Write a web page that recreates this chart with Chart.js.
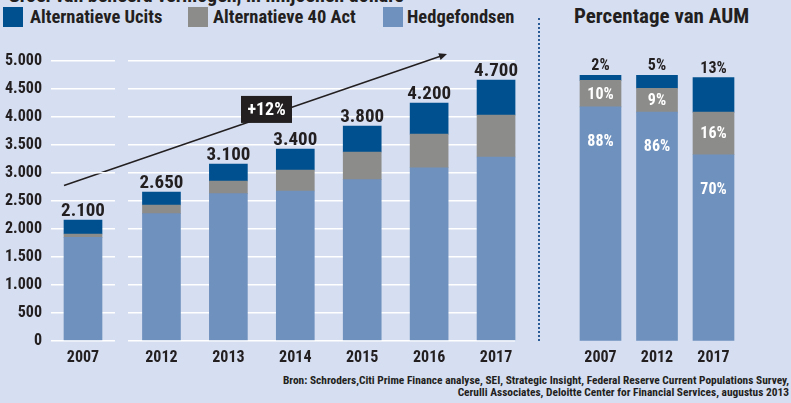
<!DOCTYPE html>
<html><head><meta charset="utf-8">
<script src="https://cdn.jsdelivr.net/npm/chart.js@4/dist/chart.umd.min.js"></script>
<style>
html,body{margin:0;padding:0;background:#d6def1;width:791px;height:403px;overflow:hidden;position:relative;
 font-family:'Roboto Condensed','Open Sans',sans-serif;color:#231f20}
.abs{position:absolute;white-space:nowrap}
canvas{position:absolute;top:0}
.sq{position:absolute;top:7px;width:20px;height:20px}
.lg{position:absolute;top:7px;font-size:18.5px;line-height:20px;font-weight:bold}
</style></head><body>
<div class="abs" style="left:8px;top:-15px;font-size:20px;line-height:21px;font-weight:bold">Groei van beheerd vermogen, in miljoenen dollars</div>
<div class="sq" style="left:3px;background:#00508f"></div><div class="lg" style="left:30px">Alternatieve Ucits</div>
<div class="sq" style="left:188px;background:#8c8c8a"></div><div class="lg" style="left:213px">Alternatieve 40 Act</div>
<div class="sq" style="left:383px;background:#6f91bd"></div><div class="lg" style="left:407px">Hedgefondsen</div>
<div class="abs" style="left:574px;top:6px;font-size:21px;line-height:21px;font-weight:bold">Percentage van AUM</div>
<div class="abs" style="left:538px;top:18px;height:323px;border-left:2px dotted #2a5a96"></div>
<div class="abs" style="right:2px;top:374px;font-size:11.4px;line-height:12px;font-weight:bold;text-align:right">Bron: Schroders,Citi Prime Finance analyse, SEI, Strategic Insight, Federal Reserve Current Populations Survey,<br>Cerulli Associates, Deloitte Center for Financial Services, augustus 2013</div>
<canvas id="cB" width="540" height="403" style="left:0"></canvas>
<canvas id="cA" width="120" height="403" style="left:0"></canvas>
<canvas id="cC" width="246" height="403" style="left:545px"></canvas>
<script>
// ---- data ----
const years = ['2007','2012','2013','2014','2015','2016','2017'];
const ucits = [250, 232, 304, 375, 464, 554, 625];
const act40 = [59, 155, 227, 375, 494, 601, 750];
const hedge = [1846, 2268, 2625, 2673, 2875, 3089, 3280];
const totalLabels = ['2.100','2.650','3.100','3.400','3.800','4.200','4.700'];
const pctYears = ['2007','2012','2017'];
const pctUcits = [2, 5, 13];
const pctAct40 = [10, 9, 16];
const pctHedge = [88, 86, 70];
const growthLabel = '+12%';
const seriesNames = ['Hedgefondsen','Alternatieve 40 Act','Alternatieve Ucits'];

// ---- styles ----
const FONT = "'Roboto Condensed','Open Sans',sans-serif";
const BG = '#d6def1', INK = '#231f20';
const C_UCITS = '#00508f', C_ACT = '#8c8c8a', C_HEDGE = '#6f91bd';
Chart.defaults.font.family = FONT;
Chart.defaults.color = INK;

function fmt(v){ return v >= 1000 ? Math.floor(v/1000) + '.' + String(v % 1000).padStart(3,'0') : String(v); }

function stackSets(h, a, u, thick){
  return [
    {label: seriesNames[0], data: h, backgroundColor: C_HEDGE, barThickness: thick},
    {label: seriesNames[1], data: a, backgroundColor: C_ACT, barThickness: thick},
    {label: seriesNames[2], data: u, backgroundColor: C_UCITS, barThickness: thick}
  ];
}
const xAxis = {stacked: true, grid: {display: false, drawTicks: false}, border: {display: false},
  ticks: {color: INK, padding: 8, font: {size: 16, weight: 'bold'}},
  afterFit(s){ s.height = 25; }};

function totalsPlugin(offset){
  return {id: 'totals' + offset, afterDatasetsDraw(chart){
    const ctx = chart.ctx, meta = chart.getDatasetMeta(2);
    ctx.save();
    ctx.font = 'bold 19px ' + FONT; ctx.fillStyle = INK;
    ctx.textAlign = 'center'; ctx.textBaseline = 'alphabetic';
    meta.data.forEach((el, i) => ctx.fillText(totalLabels[offset + i], el.x, el.y - 4));
    ctx.restore();
  }};
}

const PAD_BOTTOM = 37.3;

// chart A: 2007 with y axis
new Chart(document.getElementById('cA'), {
  type: 'bar',
  data: {labels: years.slice(0,1), datasets: stackSets(hedge.slice(0,1), act40.slice(0,1), ucits.slice(0,1), 38)},
  options: {
    responsive: false, animation: false,
    layout: {padding: {top: 60.7, right: 5, bottom: PAD_BOTTOM, left: 0}},
    plugins: {legend: {display: false}, tooltip: {enabled: false}},
    scales: {
      x: xAxis,
      y: {stacked: true, min: 0, max: 5000,
        ticks: {stepSize: 500, padding: 9, callback: fmt, color: INK, font: {size: 16, weight: 'bold'}},
        grid: {color: '#ffffff', lineWidth: 1.5, drawTicks: false}, border: {display: false},
        afterFit(s){ s.width = 51; }}
    }
  },
  plugins: [totalsPlugin(0)]
});

// chart B: 2012-2017
const annot = {id: 'annot',
  beforeDatasetsDraw(chart){
    const meta = chart.getDatasetMeta(0), last = meta.data[meta.data.length - 1];
    const a = chart.chartArea, ctx = chart.ctx;
    const x0 = last.x + last.width / 2;
    ctx.save(); ctx.fillStyle = BG;
    ctx.fillRect(x0, a.top - 3, a.right - x0 + 3, a.bottom - a.top + 6);
    ctx.restore();
  },
  afterDatasetsDraw(chart){
    const ctx = chart.ctx, y = chart.scales.y;
    const x1 = 64, y1 = y.getPixelForValue(2770);
    const x2 = 447, y2 = y.getPixelForValue(5120);
    ctx.save();
    ctx.strokeStyle = INK; ctx.fillStyle = INK; ctx.lineWidth = 1.5;
    ctx.beginPath(); ctx.moveTo(x1, y1); ctx.lineTo(x2 - 3, y2 + 1); ctx.stroke();
    const ang = Math.atan2(y2 - y1, x2 - x1);
    ctx.beginPath(); ctx.moveTo(x2, y2);
    ctx.lineTo(x2 - 8*Math.cos(ang) + 3.5*Math.sin(ang), y2 - 8*Math.sin(ang) - 3.5*Math.cos(ang));
    ctx.lineTo(x2 - 8*Math.cos(ang) - 3.5*Math.sin(ang), y2 - 8*Math.sin(ang) + 3.5*Math.cos(ang));
    ctx.closePath(); ctx.fill();
    const bx = 266.5, by = y.getPixelForValue(4130);
    ctx.fillRect(bx - 25.5, by - 13.5, 51, 27);
    ctx.fillStyle = '#ffffff'; ctx.font = 'bold 18px ' + FONT;
    ctx.textAlign = 'center'; ctx.textBaseline = 'middle';
    ctx.fillText(growthLabel, bx, by + 1);
    ctx.restore();
  }};
new Chart(document.getElementById('cB'), {
  type: 'bar',
  data: {labels: years.slice(1), datasets: stackSets(hedge.slice(1), act40.slice(1), ucits.slice(1), 38)},
  options: {
    responsive: false, animation: false,
    layout: {padding: {top: 60.7, right: 10.5, bottom: PAD_BOTTOM, left: 128}},
    plugins: {legend: {display: false}, tooltip: {enabled: false}},
    scales: {
      x: xAxis,
      y: {stacked: true, min: 0, max: 5000,
        ticks: {stepSize: 500, display: false},
        grid: {color: '#ffffff', lineWidth: 1.5, drawTicks: false}, border: {display: false},
        afterFit(s){ s.width = 0; }}
    }
  },
  plugins: [totalsPlugin(1), annot]
});

// chart C: percentages
const pctLabels = {id: 'pctLabels', afterDatasetsDraw(chart){
  const ctx = chart.ctx;
  const mh = chart.getDatasetMeta(0), ma = chart.getDatasetMeta(1), mu = chart.getDatasetMeta(2);
  ctx.save(); ctx.font = 'bold 16px ' + FONT; ctx.textAlign = 'center';
  mu.data.forEach((el, i) => {
    ctx.fillStyle = INK; ctx.textBaseline = 'alphabetic';
    ctx.fillText(pctUcits[i] + '%', el.x, el.y - 5);
    ctx.fillStyle = '#ffffff'; ctx.textBaseline = 'middle';
    const ea = ma.data[i];
    ctx.fillText(pctAct40[i] + '%', ea.x, (ea.y + ea.base) / 2 + 1);
    const eh = mh.data[i];
    ctx.fillText(pctHedge[i] + '%', eh.x, eh.y + 35);
  });
  ctx.restore();
}};
new Chart(document.getElementById('cC'), {
  type: 'bar',
  data: {labels: pctYears, datasets: stackSets(pctHedge, pctAct40, pctUcits, 41)},
  options: {
    responsive: false, animation: false,
    layout: {padding: {top: 75, right: 49.25, bottom: PAD_BOTTOM, left: 27.25}},
    plugins: {legend: {display: false}, tooltip: {enabled: false}},
    scales: {
      x: xAxis,
      y: {stacked: true, min: 0, max: 100, display: false}
    }
  },
  plugins: [pctLabels]
});
</script>
</body></html>
